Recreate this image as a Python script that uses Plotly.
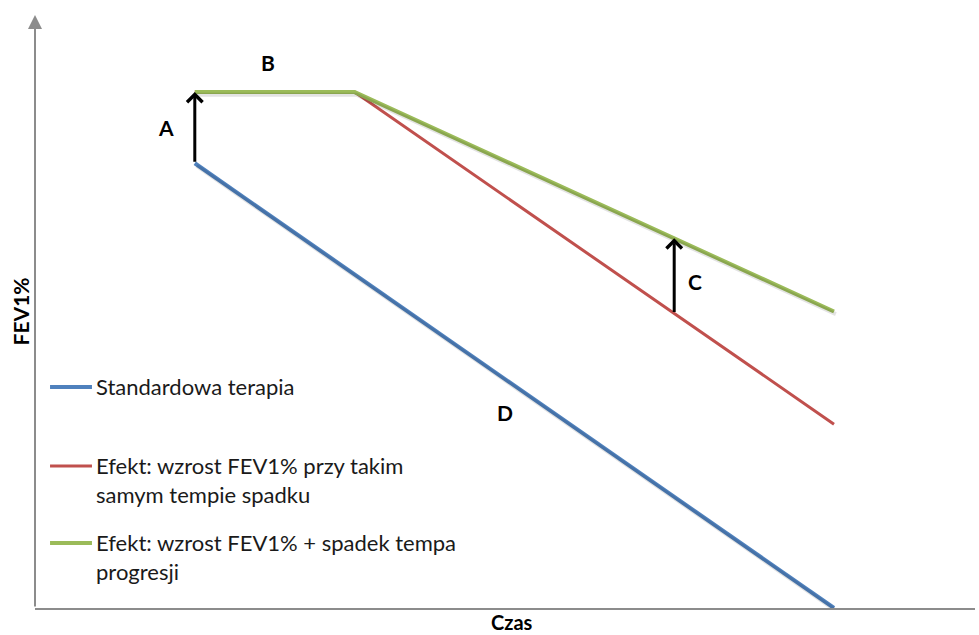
import numpy as np
import plotly.graph_objects as go

# Schematic FEV1% course over time (arbitrary units)
time_standard = [1.7, 8.5]
fev_standard = [75, 0]

time_effect = [1.7, 3.4, 8.5]
fev_same_rate = [87, 87, 31]       # higher FEV1%, same rate of decline
fev_slower_rate = [87, 87, 50]     # higher FEV1%, slower progression

t_gap = 6.8                         # where the rate difference (C) is shown

series_names = [
    "Standardowa terapia",
    "Efekt: wzrost FEV1% przy takim<br>samym tempie spadku",
    "Efekt: wzrost FEV1% + spadek tempa<br>progresji",
]
letters = ["A", "B", "C", "D"]

BLUE = "#4F81BD"
RED = "#C0504D"
GREEN = "#9BBB59"
AXIS = "#8C8C8C"
FONT = "Lato"

X_RANGE = [0, 10]
Y_RANGE = [0, 100]

fig = go.Figure()

# soft drop shadow under the lines (drawn on a slightly offset overlay axis)
shadow = dict(color="rgba(0,0,0,0.11)", width=4)
for xs, ys in [(time_standard, fev_standard), (time_effect, fev_slower_rate)]:
    fig.add_trace(go.Scatter(x=xs, y=ys, mode="lines", line=shadow,
                             xaxis="x2", yaxis="y2", hoverinfo="skip", showlegend=False))

fig.add_trace(go.Scatter(x=time_standard, y=fev_standard, mode="lines",
                         line=dict(color=BLUE, width=4), name=series_names[0], showlegend=False))
fig.add_trace(go.Scatter(x=time_effect, y=fev_same_rate, mode="lines",
                         line=dict(color=RED, width=3), name=series_names[1], showlegend=False))
fig.add_trace(go.Scatter(x=time_effect, y=fev_slower_rate, mode="lines",
                         line=dict(color=GREEN, width=4), name=series_names[2], showlegend=False))

annotations = []

# y axis drawn as an arrow
annotations.append(dict(x=0, y=Y_RANGE[1], ax=0, ay=0, xref="x", yref="y", axref="x", ayref="y",
                        showarrow=True, arrowhead=2, arrowsize=1.4, arrowwidth=2, arrowcolor=AXIS,
                        text="", standoff=0))

# A: jump in FEV1% at treatment start
a_x = time_effect[0]
annotations.append(dict(x=a_x, y=fev_slower_rate[0], ax=a_x, ay=fev_standard[0],
                        xref="x", yref="y", axref="x", ayref="y", text="", showarrow=True,
                        arrowhead=4, arrowsize=1, arrowwidth=3, arrowcolor="black", standoff=0))
# C: difference between the two effect lines
c_low = float(np.interp(t_gap, time_effect, fev_same_rate))
c_high = float(np.interp(t_gap, time_effect, fev_slower_rate))
annotations.append(dict(x=t_gap, y=c_high, ax=t_gap, ay=c_low,
                        xref="x", yref="y", axref="x", ayref="y", text="", showarrow=True,
                        arrowhead=4, arrowsize=1, arrowwidth=3, arrowcolor="black", standoff=0))

letter_pos = {"A": (1.39, 81), "B": (2.48, 92), "C": (7.02, 55), "D": (5.0, 33)}
for L in letters:
    lx, ly = letter_pos[L]
    annotations.append(dict(x=lx, y=ly, xref="x", yref="y", text=f"<b>{L}</b>", showarrow=False,
                            xanchor="center", yanchor="middle",
                            font=dict(family=FONT, size=21, color="black")))

# hand-placed legend
legend_rows = [(0.3727, BLUE, 4), (0.2395, RED, 3), (0.1096, GREEN, 4)]
shapes = []
for (ly, col, w), name in zip(legend_rows, series_names):
    shapes.append(dict(type="line", xref="paper", yref="paper", x0=0.016, x1=0.0606, y0=ly, y1=ly,
                       line=dict(color=col, width=w)))
    n_lines = name.count("<br>") + 1
    cy = ly - (n_lines - 1) * 0.0236
    annotations.append(dict(x=0.0628, y=cy, xref="paper", yref="paper", xanchor="left", yanchor="middle",
                            align="left", text=name, showarrow=False,
                            font=dict(family=FONT, size=22, color="#1a1a1a")))

# axis titles
annotations.append(dict(x=-0.015, y=0.50, xref="paper", yref="paper", text="<b>FEV1%</b>",
                        xanchor="center", yanchor="middle",
                        textangle=-90, showarrow=False, font=dict(family=FONT, size=21, color="black")))
annotations.append(dict(x=0.507, y=-0.0235, xref="paper", yref="paper", text="<b>Czas</b>",
                        xanchor="center", yanchor="middle", borderpad=0,
                        showarrow=False, font=dict(family=FONT, size=20, color="black")))

shadow_shift = 0.45
fig.update_layout(
    width=979, height=635,
    margin=dict(l=35, r=4, t=15, b=27),
    paper_bgcolor="white", plot_bgcolor="white",
    xaxis=dict(range=X_RANGE, showgrid=False, zeroline=False, showticklabels=False,
               showline=True, linecolor=AXIS, linewidth=2, ticks="", fixedrange=True),
    yaxis=dict(range=Y_RANGE, showgrid=False, zeroline=False, showticklabels=False,
               showline=False, ticks="", fixedrange=True),
    xaxis2=dict(range=[X_RANGE[0] - 0.02, X_RANGE[1] - 0.02], overlaying="x", visible=False),
    yaxis2=dict(range=[Y_RANGE[0] + shadow_shift, Y_RANGE[1] + shadow_shift], overlaying="y", visible=False),
    annotations=annotations,
    shapes=shapes,
)

fig.write_html("out.html")
